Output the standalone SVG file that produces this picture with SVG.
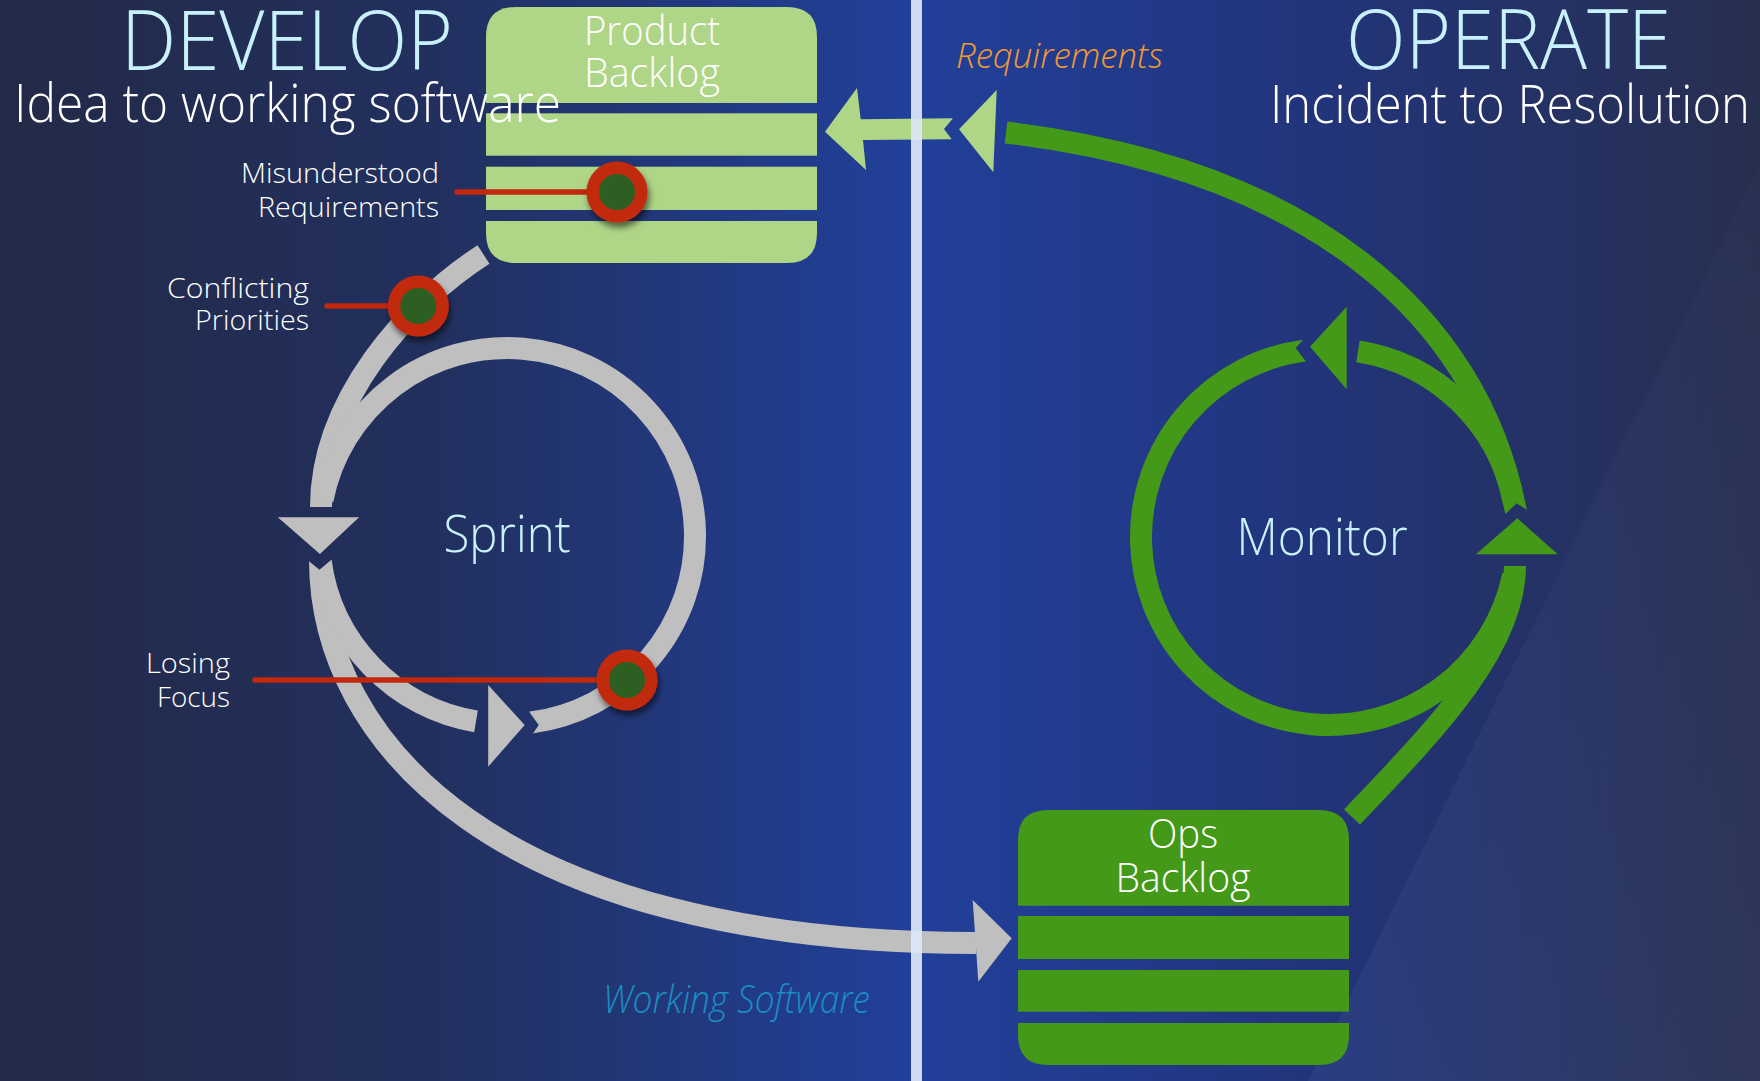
<svg xmlns="http://www.w3.org/2000/svg" width="1760" height="1081" viewBox="0 0 1760 1081">
<defs>
  <linearGradient id="bg" x1="0" y1="0" x2="1760" y2="0" gradientUnits="userSpaceOnUse">
    <stop offset="0" stop-color="#232a47"/>
    <stop offset="0.25" stop-color="#22305f"/>
    <stop offset="0.52" stop-color="#21409b"/>
    <stop offset="0.75" stop-color="#22347a"/>
    <stop offset="1" stop-color="#272f4f"/>
  </linearGradient>
  <linearGradient id="sheen" x1="1300" y1="1081" x2="1760" y2="166" gradientUnits="userSpaceOnUse">
    <stop offset="0" stop-color="#8fa3d6" stop-opacity="0.08"/>
    <stop offset="1" stop-color="#8fa3d6" stop-opacity="0.02"/>
  </linearGradient>
  <filter id="shadow" x="-50%" y="-50%" width="200%" height="200%">
    <feDropShadow dx="2" dy="5" stdDeviation="3" flood-color="#000" flood-opacity="0.55"/>
  </filter>
  <mask id="mGray" maskUnits="userSpaceOnUse" x="0" y="0" width="1760" height="1081">
    <rect width="1760" height="1081" fill="#fff"/>
    <polygon points="319.5,569.7 301.5,555.2 336.8,555.2" fill="#000"/>
    <polygon points="538.7,725 526.1,707.5 528.7,740" fill="#000"/>
  </mask>
  <mask id="mGreen" maskUnits="userSpaceOnUse" x="0" y="0" width="1760" height="1081">
    <rect width="1760" height="1081" fill="#fff"/>
    <polygon points="1516.7,503.3 1499.5,519.5 1531.9,513.2" fill="#000"/>
    <polygon points="1295.7,348.3 1306.7,335.4 1311.1,368.1" fill="#000"/>
  </mask>
</defs>
<style>
  .txt{font-family:"Open Sans","Noto Sans","DejaVu Sans",sans-serif;font-weight:300}
  .title{fill:#c8f1fb;font-size:83px}
  .sub{fill:#ffffff;font-size:53px}
  .node-label{fill:#ffffff;font-size:40px;text-anchor:middle}
  .loop-label{fill:#c8f1fb;font-size:52px;text-anchor:middle}
  .issue{fill:#ffffff;font-size:28px;text-anchor:end}
  .flow{font-style:italic}
  .gray{fill:none;stroke:#bfbfbf;stroke-width:22}
  .green{fill:none;stroke:#449a18;stroke-width:22}
  .gray-head{fill:#bfbfbf}
  .green-head{fill:#449a18}
  .light-head{fill:#afd587}
  .pb{fill:#afd587}
  .ob{fill:#449a18}
  .pin{stroke:#c1290e;stroke-width:5.5;stroke-linecap:round}
  .ring{fill:#2f5f23;stroke:#c1290e;stroke-width:12.5}
</style>

<rect width="1760" height="1081" fill="url(#bg)"/>
<polygon points="1760,166 1308,1081 1760,1081" fill="url(#sheen)"/>

<g id="connectors">
  <g id="sprint-loop" mask="url(#mGray)">
    <path class="gray" d="M483.5,254.5 C407.9,303.1 321,400 321,507"/>
    <path class="gray" d="M320,560 C320,740 495,943 976,943"/>
    <path class="gray" d="M322.5,500 A188,188 0 1 1 531,722.5"/>
    <path class="gray" d="M320.5,560 A188,188 0 0 0 476,721.4"/>
  </g>
  <polygon class="gray-head" points="277.8,517.3 359.1,517.3 319.9,554"/>
  <polygon class="gray-head" points="488.2,685 524.7,725 488.2,766.7"/>
  <polygon class="gray-head" points="972.7,900 1011.7,938.3 978.3,981.7"/>

  <g id="monitor-loop" mask="url(#mGreen)">
    <path class="green" d="M1006,132.5 C1306,168.5 1478,312 1516,512"/>
    <path class="green" d="M1358,351.3 A188,188 0 0 1 1513.3,500"/>
    <path class="green" d="M1304.5,350.6 A188,188 0 1 0 1513.1,575"/>
    <path class="green" d="M1515,566 C1515,650 1430,735 1352,817"/>
  </g>
  <polygon class="green-head" points="1310,346.7 1346.7,306.7 1346.7,389.3"/>
  <polygon class="green-head" points="1517.3,518.3 1476,554.3 1557.7,554.3"/>

  <polygon class="light-head" points="959,129.3 996.7,90 993.3,172.3"/>
  <polygon class="light-head" points="953,118.3 860.7,119.3 857,88 825,131.7 866,170 863,140 951.7,139.3 944,129"/>
</g>

<g id="product-backlog">
  <path class="pb" d="M486,103 V37 Q486,7 516,7 H787 Q817,7 817,37 V103 Z"/>
  <rect class="pb" x="486" y="113.3" width="331" height="42.4"/>
  <rect class="pb" x="486" y="166.7" width="331" height="43.3"/>
  <path class="pb" d="M486,221 H817 V233 Q817,263 787,263 H516 Q486,263 486,233 Z"/>
  <text class="txt node-label" x="652" y="45" textLength="136" lengthAdjust="spacingAndGlyphs">Product</text>
  <text class="txt node-label" x="652" y="87" textLength="136" lengthAdjust="spacingAndGlyphs">Backlog</text>
</g>

<g id="ops-backlog">
  <path class="ob" d="M1018,905.7 V840 Q1018,810 1048,810 H1319 Q1349,810 1349,840 V905.7 Z"/>
  <rect class="ob" x="1018" y="916" width="331" height="43"/>
  <rect class="ob" x="1018" y="970" width="331" height="41.7"/>
  <path class="ob" d="M1018,1023 H1349 V1035 Q1349,1065 1319,1065 H1048 Q1018,1065 1018,1035 Z"/>
  <text class="txt node-label" x="1183" y="848" textLength="70" lengthAdjust="spacingAndGlyphs">Ops</text>
  <text class="txt node-label" x="1183" y="892" textLength="135" lengthAdjust="spacingAndGlyphs">Backlog</text>
</g>

<g id="sprint">
  <text class="txt loop-label" x="507" y="552" textLength="127" lengthAdjust="spacingAndGlyphs">Sprint</text>
</g>
<g id="monitor">
  <text class="txt loop-label" x="1322" y="555" textLength="171" lengthAdjust="spacingAndGlyphs">Monitor</text>
</g>

<g id="misunderstood-requirements">
  <line class="pin" x1="457" y1="192" x2="600" y2="192"/>
  <circle class="ring" cx="617" cy="192" r="24.3" filter="url(#shadow)"/>
  <text class="txt issue" x="439" y="183" textLength="198" lengthAdjust="spacingAndGlyphs">Misunderstood</text>
  <text class="txt issue" x="439" y="217" textLength="181" lengthAdjust="spacingAndGlyphs">Requirements</text>
</g>
<g id="conflicting-priorities">
  <line class="pin" x1="327" y1="306" x2="400" y2="306"/>
  <circle class="ring" cx="418.3" cy="306" r="24.3" filter="url(#shadow)"/>
  <text class="txt issue" x="309" y="298" textLength="142" lengthAdjust="spacingAndGlyphs">Conflicting</text>
  <text class="txt issue" x="309" y="330" textLength="114" lengthAdjust="spacingAndGlyphs">Priorities</text>
</g>
<g id="losing-focus">
  <line class="pin" x1="255" y1="680" x2="610" y2="680"/>
  <circle class="ring" cx="627" cy="680" r="24.3" filter="url(#shadow)"/>
  <text class="txt issue" x="230" y="673" textLength="84" lengthAdjust="spacingAndGlyphs">Losing</text>
  <text class="txt issue" x="230" y="707" textLength="73" lengthAdjust="spacingAndGlyphs">Focus</text>
</g>

<rect id="divider" x="911" y="0" width="11" height="1081" fill="#dce6f6" fill-opacity="0.93"/>

<g id="titles">
  <text class="txt title" x="121" y="70" textLength="332" lengthAdjust="spacingAndGlyphs">DEVELOP</text>
  <text class="txt sub" x="14" y="122" textLength="547" lengthAdjust="spacingAndGlyphs">Idea to working software</text>
  <text class="txt title" x="1346" y="69" textLength="325" lengthAdjust="spacingAndGlyphs">OPERATE</text>
  <text class="txt sub" x="1270" y="123" textLength="480" lengthAdjust="spacingAndGlyphs">Incident to Resolution</text>
  <text class="txt flow" x="956" y="68" fill="#f29a30" font-size="35" textLength="207" lengthAdjust="spacingAndGlyphs">Requirements</text>
  <text class="txt flow" x="603" y="1013" fill="#1b8dc0" font-size="38" textLength="267" lengthAdjust="spacingAndGlyphs">Working Software</text>
</g>
</svg>
